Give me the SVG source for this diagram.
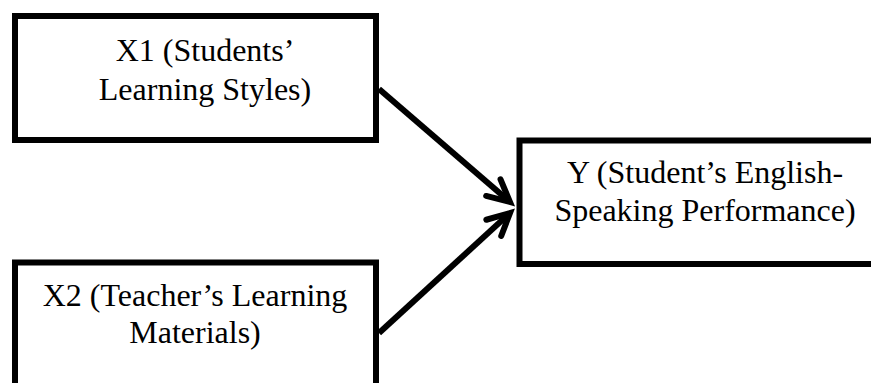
<svg xmlns="http://www.w3.org/2000/svg" width="871" height="383" viewBox="0 0 871 383">
<style>
.box{fill:#fff;stroke:#000;stroke-width:6}
.t{font-family:'Times New Roman','Liberation Serif',Tinos,'DejaVu Serif',serif;font-size:32px;fill:#000;text-anchor:middle}
.c{fill:none;stroke:#000;stroke-width:6}
</style>
<defs>
<marker id="ah" markerUnits="userSpaceOnUse" orient="auto" refX="0" refY="0" overflow="visible" markerWidth="30" markerHeight="30">
<path d="M-22,-11 L0,0 L-22,11" fill="none" stroke="#000" stroke-width="6" stroke-linecap="round" stroke-linejoin="miter"/>
</marker>
</defs>
<rect width="871" height="383" fill="#fff"/>
<g id="connectors">
<line class="c" x1="379" y1="89" x2="510" y2="202" marker-end="url(#ah)"/>
<line class="c" x1="379" y1="333" x2="510" y2="213" marker-end="url(#ah)"/>
</g>
<g id="x1">
<rect class="box" x="15" y="16" width="361" height="124"/>
<text class="t" x="205" y="61">X1 (Students’</text>
<text class="t" x="205" y="100">Learning Styles)</text>
</g>
<g id="x2">
<rect class="box" x="15" y="262.5" width="361" height="140"/>
<text class="t" x="195" y="306">X2 (Teacher’s Learning</text>
<text class="t" x="195" y="343">Materials)</text>
</g>
<g id="y">
<rect class="box" x="519.5" y="140.5" width="400" height="123.5"/>
<text class="t" x="705" y="183">Y (Student’s English-</text>
<text class="t" x="705" y="221">Speaking Performance)</text>
</g>
</svg>
